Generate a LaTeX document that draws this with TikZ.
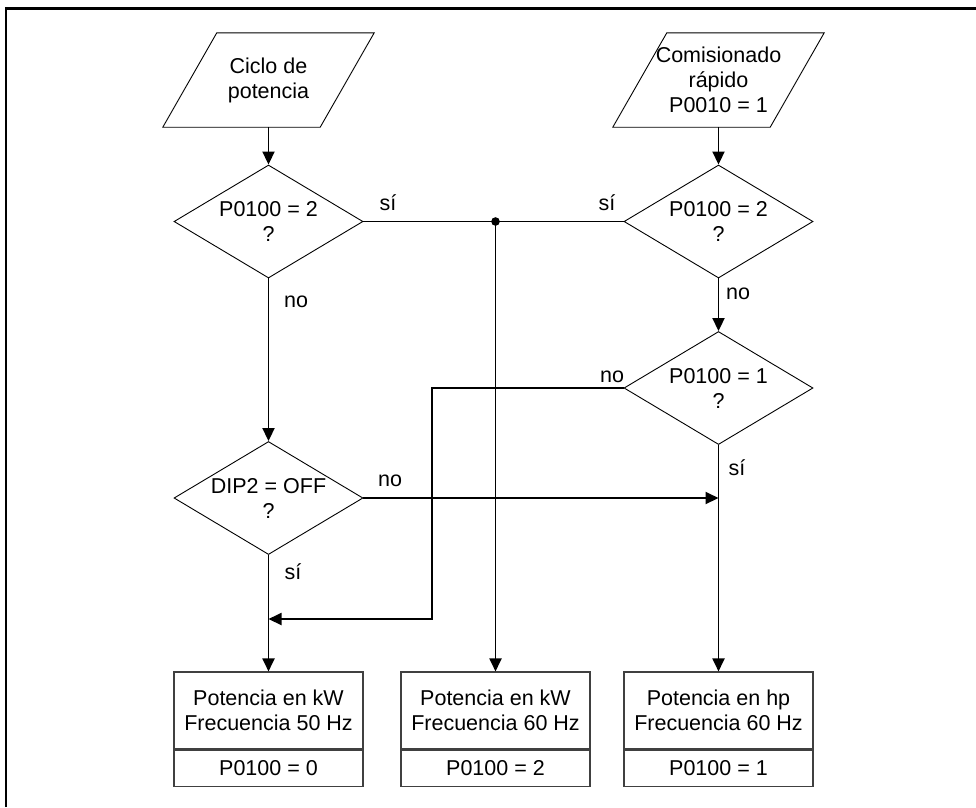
\documentclass[tikz,border=0pt]{standalone}
\usepackage{fontspec}
\setmainfont{Liberation Sans}
\usetikzlibrary{arrows.meta,positioning,shapes.geometric}

\begin{document}
\begin{tikzpicture}[x=1pt,y=-1pt,>={Triangle[length=13pt,width=12pt]},
  font=\fontsize{21.5pt}{25pt}\selectfont,
  io/.style={minimum width=157pt,minimum height=94pt,inner sep=0pt,align=center},
  dec/.style={diamond,draw,line width=0.9pt,aspect=1.67,minimum width=189pt,minimum height=113pt,inner sep=0pt,align=center},
  box/.style={draw=black!75,line width=1.1pt,minimum width=189pt,minimum height=77pt,inner sep=0pt,align=center},
  val/.style={draw=black!75,line width=1.1pt,minimum width=189pt,minimum height=36pt,inner sep=0pt},
  flow/.style={line width=1.9pt}]
  \useasboundingbox (0,0) rectangle (976,807);
  \draw[line width=2.2pt] (6,807) -- (6,8.5) -- (976,8.5);

  % entradas
  \node[io] (ciclo) at (268.5,80) {Ciclo de\\potencia};
  \node[io] (comis) at (718.5,80) {Comisionado\\rápido\\P0010 = 1};
  \foreach \n in {ciclo,comis}
    \draw[line width=0.9pt] ([xshift=27pt]\n.north west) -- ([xshift=27pt]\n.north east)
      -- ([xshift=-27pt]\n.south east) -- ([xshift=-27pt]\n.south west) -- cycle;

  % decisiones
  \node[dec] (d1) at (268.5,221.5) {P0100 = 2\\?};
  \node[dec] (d2) at (718.5,221.5) {P0100 = 2\\?};
  \node[dec] (d3) at (718.5,388) {P0100 = 1\\?};
  \node[dec] (dip) at (268.5,498) {DIP2 = OFF\\?};

  % resultados
  \node[box] (kw50) at (268.5,710.5) {Potencia en kW\\Frecuencia 50 Hz};
  \node[val,below=0pt of kw50] (p0) {P0100 = 0};
  \node[box] (kw60) at (495.5,710.5) {Potencia en kW\\Frecuencia 60 Hz};
  \node[val,below=0pt of kw60] (p2) {P0100 = 2};
  \node[box] (hp60) at (718.5,710.5) {Potencia en hp\\Frecuencia 60 Hz};
  \node[val,below=0pt of hp60] (p1) {P0100 = 1};

  % conexiones
  \draw[flow,->] (ciclo) -- (d1);
  \draw[flow,->] (comis) -- (d2);
  \draw[flow] (d1.east) -- (d2.west);
  \coordinate (jn) at (kw60.north |- d1.east);
  \fill (jn) circle (4.3pt);
  \draw[flow,->] (jn) -- (kw60);
  \draw[flow,->] (d1) -- (dip);
  \draw[flow,->] (d2) -- (d3);
  \coordinate (bend) at (432,619);
  \draw[flow,->] (d3.west) -| (bend) -- (bend -| dip.south);
  \draw[flow,->] (dip) -- (kw50);
  \draw[flow,->] (dip.east) -- (dip.east -| d3.south);
  \draw[flow,->] (d3) -- (hp60);

  % rotulos
  \node (si1) at (388,203) {sí};
  \node (si2) at (607,203) {sí};
  \node (no1) at (296,302) {no};
  \node (no2) at (738,294) {no};
  \node (no3) at (612,377) {no};
  \node (si3) at (737,468) {sí};
  \node (no4) at (390,481) {no};
  \node (si4) at (293,572) {sí};
\end{tikzpicture}
\end{document}
